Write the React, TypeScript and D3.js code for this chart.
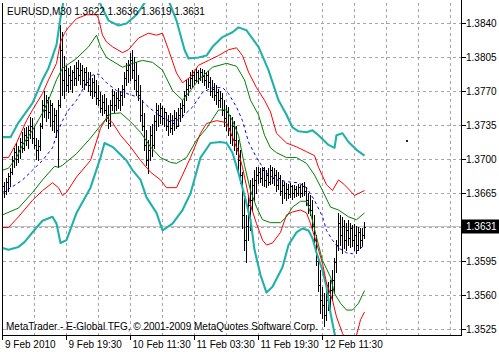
import React from "react";
import * as d3 from "d3";

const W = 499;
const H = 352;

// ---- price data (EURUSD M30), one entry per bar ----
const opens = [1.3666,1.3673,1.3668,1.3677,1.3683,1.3687,1.3699,1.3708,1.3701,1.3710,
1.3718,1.3712,1.3725,1.3720,1.3730,1.3735,1.3722,1.3715,1.3710,1.3714,
1.3735,1.3756,1.3751,1.3761,1.3749,1.3756,1.3740,1.3746,1.3730,1.3756,
1.3813,1.3782,1.3792,1.3777,1.3787,1.3782,1.3790,1.3784,1.3794,1.3787,
1.3792,1.3782,1.3790,1.3780,1.3777,1.3771,1.3780,1.3769,1.3763,1.3761,
1.3753,1.3759,1.3751,1.3746,1.3738,1.3756,1.3766,1.3756,1.3763,1.3761,
1.3766,1.3773,1.3784,1.3792,1.3797,1.3802,1.3792,1.3782,1.3771,1.3766,
1.3746,1.3735,1.3715,1.3699,1.3710,1.3725,1.3715,1.3740,1.3751,1.3746,
1.3753,1.3743,1.3749,1.3735,1.3740,1.3732,1.3738,1.3743,1.3735,1.3746,
1.3753,1.3756,1.3766,1.3773,1.3777,1.3784,1.3787,1.3782,1.3790,1.3784,
1.3790,1.3786,1.3782,1.3787,1.3780,1.3771,1.3773,1.3766,1.3769,1.3761,
1.3763,1.3751,1.3743,1.3749,1.3732,1.3725,1.3735,1.3720,1.3712,1.3699,
1.3684,1.3643,1.3617,1.3632,1.3653,1.3658,1.3674,1.3679,1.3684,1.3687,
1.3681,1.3689,1.3679,1.3684,1.3677,1.3689,1.3681,1.3684,1.3674,1.3681,
1.3668,1.3674,1.3666,1.3670,1.3664,1.3673,1.3666,1.3670,1.3665,1.3672,
1.3666,1.3673,1.3668,1.3658,1.3653,1.3648,1.3632,1.3617,1.3596,1.3571,
1.3555,1.3550,1.3540,1.3555,1.3560,1.3566,1.3576,1.3594,1.3612,1.3635,
1.3622,1.3632,1.3617,1.3627,1.3619,1.3629,1.3617,1.3622,1.3612,1.3625,
1.3617,1.3622];

const highs = [1.3679,1.3677,1.3681,1.3686,1.3691,1.3704,1.3712,1.3717,1.3714,1.3722,
1.3728,1.3732,1.3733,1.3735,1.3744,1.3743,1.3735,1.3722,1.3720,1.3738,
1.3761,1.3771,1.3766,1.3764,1.3761,1.3758,1.3753,1.3751,1.3761,1.3838,
1.3831,1.3807,1.3797,1.3794,1.3796,1.3792,1.3797,1.3800,1.3802,1.3799,
1.3797,1.3794,1.3795,1.3790,1.3790,1.3784,1.3787,1.3782,1.3777,1.3769,
1.3766,1.3767,1.3763,1.3756,1.3761,1.3773,1.3771,1.3769,1.3774,1.3771,
1.3777,1.3790,1.3799,1.3802,1.3810,1.3813,1.3805,1.3800,1.3787,1.3777,
1.3761,1.3748,1.3730,1.3720,1.3735,1.3737,1.3746,1.3758,1.3756,1.3758,
1.3755,1.3753,1.3749,1.3746,1.3748,1.3746,1.3751,1.3749,1.3753,1.3758,
1.3761,1.3771,1.3782,1.3784,1.3790,1.3792,1.3791,1.3794,1.3792,1.3794,
1.3793,1.3792,1.3790,1.3791,1.3785,1.3782,1.3779,1.3777,1.3773,1.3771,
1.3768,1.3761,1.3756,1.3754,1.3746,1.3744,1.3740,1.3735,1.3720,1.3710,
1.3687,1.3663,1.3643,1.3663,1.3679,1.3681,1.3689,1.3692,1.3692,1.3691,
1.3692,1.3692,1.3689,1.3691,1.3694,1.3692,1.3691,1.3689,1.3687,1.3684,
1.3679,1.3677,1.3676,1.3675,1.3676,1.3674,1.3674,1.3673,1.3675,1.3674,
1.3676,1.3677,1.3672,1.3666,1.3663,1.3658,1.3643,1.3622,1.3601,1.3586,
1.3569,1.3563,1.3566,1.3574,1.3576,1.3586,1.3599,1.3617,1.3645,1.3643,
1.3641,1.3638,1.3635,1.3638,1.3635,1.3633,1.3634,1.3632,1.3631,1.3630,
1.3629,1.3636];

const lows = [1.3662,1.3661,1.3664,1.3668,1.3673,1.3685,1.3692,1.3694,1.3697,1.3702,
1.3708,1.3710,1.3715,1.3712,1.3722,1.3717,1.3712,1.3701,1.3699,1.3710,
1.3732,1.3744,1.3740,1.3743,1.3735,1.3730,1.3728,1.3723,1.3692,1.3754,
1.3766,1.3763,1.3771,1.3769,1.3773,1.3769,1.3777,1.3777,1.3782,1.3778,
1.3775,1.3773,1.3777,1.3771,1.3766,1.3763,1.3765,1.3757,1.3756,1.3749,
1.3746,1.3748,1.3740,1.3732,1.3735,1.3751,1.3749,1.3751,1.3753,1.3751,
1.3756,1.3764,1.3777,1.3780,1.3782,1.3784,1.3773,1.3766,1.3761,1.3740,
1.3730,1.3710,1.3694,1.3686,1.3699,1.3704,1.3712,1.3730,1.3735,1.3738,
1.3737,1.3735,1.3730,1.3725,1.3728,1.3726,1.3730,1.3732,1.3734,1.3740,
1.3744,1.3749,1.3761,1.3766,1.3774,1.3775,1.3778,1.3780,1.3779,1.3782,
1.3780,1.3777,1.3774,1.3775,1.3766,1.3764,1.3761,1.3757,1.3754,1.3754,
1.3746,1.3735,1.3730,1.3725,1.3717,1.3715,1.3710,1.3706,1.3689,1.3676,
1.3630,1.3607,1.3594,1.3617,1.3627,1.3648,1.3658,1.3666,1.3676,1.3677,
1.3674,1.3673,1.3672,1.3674,1.3675,1.3676,1.3674,1.3668,1.3670,1.3663,
1.3655,1.3660,1.3658,1.3660,1.3661,1.3659,1.3661,1.3662,1.3663,1.3661,
1.3662,1.3663,1.3653,1.3645,1.3643,1.3627,1.3610,1.3591,1.3565,1.3542,
1.3537,1.3529,1.3535,1.3545,1.3547,1.3555,1.3563,1.3584,1.3607,1.3612,
1.3604,1.3609,1.3607,1.3612,1.3610,1.3611,1.3607,1.3604,1.3607,1.3609,
1.3612,1.3619];

const closes = [1.3673,1.3668,1.3677,1.3683,1.3687,1.3699,1.3708,1.3701,1.3710,1.3718,
1.3712,1.3725,1.3720,1.3730,1.3735,1.3722,1.3715,1.3710,1.3714,1.3735,
1.3756,1.3751,1.3761,1.3749,1.3756,1.3740,1.3746,1.3730,1.3756,1.3813,
1.3782,1.3792,1.3777,1.3787,1.3782,1.3790,1.3784,1.3794,1.3787,1.3792,
1.3782,1.3790,1.3780,1.3777,1.3771,1.3780,1.3769,1.3763,1.3761,1.3753,
1.3759,1.3751,1.3746,1.3738,1.3756,1.3766,1.3756,1.3763,1.3761,1.3766,
1.3773,1.3784,1.3792,1.3797,1.3802,1.3792,1.3782,1.3771,1.3766,1.3746,
1.3735,1.3715,1.3699,1.3710,1.3725,1.3715,1.3740,1.3751,1.3746,1.3753,
1.3743,1.3749,1.3735,1.3740,1.3732,1.3738,1.3743,1.3735,1.3746,1.3753,
1.3756,1.3766,1.3773,1.3777,1.3784,1.3787,1.3782,1.3790,1.3784,1.3790,
1.3786,1.3782,1.3787,1.3780,1.3771,1.3773,1.3766,1.3769,1.3761,1.3763,
1.3751,1.3743,1.3749,1.3732,1.3725,1.3735,1.3720,1.3712,1.3699,1.3684,
1.3643,1.3617,1.3632,1.3653,1.3658,1.3674,1.3679,1.3684,1.3687,1.3681,
1.3689,1.3679,1.3684,1.3677,1.3689,1.3681,1.3684,1.3674,1.3681,1.3668,
1.3674,1.3666,1.3670,1.3664,1.3673,1.3666,1.3670,1.3665,1.3672,1.3666,
1.3673,1.3668,1.3658,1.3653,1.3648,1.3632,1.3617,1.3596,1.3571,1.3555,
1.3550,1.3540,1.3555,1.3560,1.3566,1.3576,1.3594,1.3612,1.3635,1.3622,
1.3632,1.3617,1.3627,1.3619,1.3629,1.3617,1.3622,1.3612,1.3625,1.3617,
1.3622,1.3631];

// ---- band indicator lines: [bar index, price] ----
const tealUpper: [number, number][] = [[0,1.3723],[4,1.3723],[8,1.3738],[15,1.3758],[20,1.3782],[23,1.3794],[27,1.3818],[29,1.3846],[31,1.3869],[36,1.3890],[41,1.3895],[46,1.3879],[48,1.3864],[53,1.3843],[58,1.3838],[62,1.3840],[67,1.3849],[72,1.3864],[76,1.3876],[80,1.3874],[83,1.3864],[87,1.3843],[91,1.3813],[93,1.3804],[98,1.3805],[102,1.3807],[105,1.3816],[110,1.3826],[115,1.3831],[118,1.3836],[122,1.3833],[123,1.3830],[128,1.3816],[133,1.3792],[138,1.3761],[142,1.3746],[145,1.3733],[148,1.3729],[152,1.3728],[155,1.3730],[158,1.3725],[163,1.3715],[166,1.3712],[167,1.3725],[170,1.3727],[173,1.3718],[177,1.3710],[181,1.3704]];
const redUpper: [number, number][] = [[0,1.3702],[3,1.3702],[7,1.3717],[12,1.3740],[15,1.3751],[20,1.3768],[23,1.3782],[27,1.3799],[29,1.3821],[31,1.3830],[33,1.3836],[37,1.3845],[42,1.3849],[47,1.3849],[48,1.3845],[50,1.3828],[52,1.3821],[55,1.3816],[60,1.3810],[63,1.3813],[68,1.3825],[73,1.3830],[77,1.3828],[80,1.3830],[83,1.3813],[87,1.3789],[90,1.3779],[94,1.3785],[98,1.3797],[103,1.3802],[108,1.3807],[113,1.3813],[117,1.3815],[120,1.3807],[123,1.3790],[127,1.3774],[131,1.3761],[134,1.3749],[137,1.3727],[142,1.3717],[147,1.3713],[152,1.3708],[156,1.3704],[158,1.3692],[162,1.3674],[165,1.3668],[168,1.3679],[171,1.3674],[176,1.3663],[181,1.3668]];
const greenUpper: [number, number][] = [[0,1.3689],[3,1.3691],[7,1.3702],[10,1.3715],[15,1.3730],[20,1.3748],[23,1.3761],[27,1.3782],[30,1.3794],[37,1.3804],[43,1.3816],[47,1.3828],[49,1.3816],[52,1.3805],[60,1.3795],[65,1.3799],[70,1.3802],[75,1.3800],[80,1.3792],[85,1.3771],[90,1.3761],[94,1.3771],[98,1.3782],[105,1.3795],[112,1.3799],[117,1.3796],[121,1.3782],[124,1.3761],[128,1.3746],[131,1.3725],[134,1.3712],[137,1.3707],[142,1.3702],[147,1.3702],[152,1.3696],[156,1.3684],[160,1.3668],[164,1.3651],[168,1.3648],[173,1.3641],[177,1.3638],[181,1.3645]];
const center: [number, number][] = [[0,1.3666],[5,1.3672],[10,1.3679],[15,1.3689],[20,1.3699],[25,1.3712],[27,1.3725],[30,1.3740],[33,1.3751],[37,1.3761],[42,1.3779],[45,1.3787],[48,1.3788],[52,1.3779],[57,1.3771],[62,1.3768],[68,1.3764],[73,1.3754],[78,1.3746],[83,1.3740],[87,1.3740],[91,1.3746],[95,1.3754],[100,1.3769],[105,1.3774],[110,1.3774],[113,1.3768],[117,1.3754],[120,1.3740],[123,1.3718],[127,1.3702],[132,1.3686],[137,1.3679],[143,1.3677],[148,1.3676],[152,1.3671],[156,1.3658],[160,1.3641],[162,1.3627],[165,1.3617],[168,1.3609],[172,1.3604],[175,1.3603],[178,1.3607],[181,1.3612]];
const greenLower: [number, number][] = [[0,1.3643],[8,1.3650],[15,1.3666],[20,1.3679],[26,1.3693],[28,1.3692],[30,1.3694],[37,1.3706],[44,1.3722],[49,1.3735],[54,1.3747],[59,1.3748],[64,1.3739],[69,1.3728],[74,1.3713],[79,1.3702],[84,1.3697],[87,1.3696],[92,1.3702],[97,1.3720],[102,1.3732],[108,1.3751],[112,1.3751],[115,1.3740],[118,1.3725],[121,1.3694],[124,1.3668],[127,1.3651],[130,1.3638],[134,1.3635],[139,1.3635],[142,1.3641],[145,1.3651],[149,1.3657],[152,1.3657],[154,1.3645],[157,1.3620],[160,1.3596],[164,1.3579],[166,1.3562],[169,1.3552],[172,1.3545],[175,1.3545],[178,1.3552],[181,1.3565]];
const redLower: [number, number][] = [[0,1.3630],[3,1.3630],[8,1.3641],[15,1.3658],[20,1.3668],[25,1.3676],[28,1.3671],[30,1.3663],[32,1.3666],[37,1.3682],[44,1.3699],[49,1.3732],[52,1.3743],[55,1.3738],[59,1.3725],[64,1.3713],[69,1.3699],[74,1.3687],[79,1.3679],[82,1.3671],[87,1.3671],[90,1.3684],[94,1.3702],[99,1.3727],[102,1.3737],[107,1.3740],[112,1.3738],[115,1.3723],[118,1.3707],[120,1.3692],[124,1.3653],[127,1.3634],[130,1.3617],[132,1.3612],[135,1.3614],[139,1.3625],[142,1.3643],[145,1.3646],[149,1.3648],[152,1.3645],[154,1.3634],[157,1.3614],[160,1.3593],[162,1.3573],[165,1.3555],[167,1.3538],[170,1.3521],[173,1.3509],[175,1.3509],[177,1.3519],[179,1.3535],[181,1.3543]];
const tealLower: [number, number][] = [[0,1.3609],[3,1.3607],[8,1.3610],[11,1.3615],[17,1.3630],[20,1.3637],[25,1.3641],[27,1.3634],[29,1.3614],[32,1.3617],[37,1.3645],[44,1.3671],[49,1.3702],[51,1.3717],[55,1.3713],[62,1.3699],[65,1.3689],[69,1.3679],[72,1.3661],[77,1.3645],[80,1.3627],[85,1.3634],[90,1.3648],[94,1.3665],[99,1.3702],[104,1.3717],[109,1.3718],[112,1.3717],[115,1.3707],[118,1.3686],[121,1.3663],[124,1.3638],[126,1.3607],[129,1.3581],[132,1.3563],[135,1.3569],[140,1.3589],[143,1.3612],[147,1.3625],[150,1.3629],[153,1.3627],[155,1.3619],[157,1.3604],[160,1.3586],[162,1.3569],[164,1.3542],[166,1.3521],[169,1.3499],[174,1.3488],[178,1.3493],[181,1.3504]];
const strayDots: [number, number][] = [[202, 1.3720]];

// ---- axis labels ----
const yTicks = [1.3525, 1.3560, 1.3595, 1.3630, 1.3665, 1.3700, 1.3735, 1.3770, 1.3805, 1.3840];
const xTickIdx = [0, 32, 64, 96, 128, 160];
const xTickText = ["9 Feb 2010", "9 Feb 19:30", "10 Feb 11:30", "11 Feb 03:30", "11 Feb 19:30", "12 Feb 11:30"];
const symbolTitle = "EURUSD,M30";
const copyright = "MetaTrader - E-Global TFG, \u00A9 2001-2009 MetaQuotes Software Corp.";

const PL = 3, PR = 461, PT = 3, PB = 335;
const FONT = "'Liberation Sans', Arial, sans-serif";

export default function App() {
  const x = d3.scaleLinear().domain([0, 229]).range([2.5, 460.5]);
  const y = d3.scaleLinear().domain([1.3525, 1.384]).range([329.5, 23.5]);
  const fmt = d3.format(".4f");
  const line = d3.line<[number, number]>().x((d) => x(d[0])).y((d) => y(d[1]));
  const gridIdx = d3.range(16, 229, 16);
  const last = opens.length - 1;
  const bid = closes[last];
  const yBid = Math.round(y(bid) - 0.5) + 0.5;
  const header = `${symbolTitle}  ${fmt(opens[last])} ${fmt(highs[last])} ${fmt(lows[last])} ${fmt(bid)}`;

  return (
    <div style={{ position: "absolute", left: 0, top: 0 }}>
      <svg width={W} height={H} style={{ display: "block", background: "#fff" }}>
        <defs>
          <clipPath id="plot">
            <rect x={PL} y={PT} width={PR - PL} height={PB - PT} />
          </clipPath>
        </defs>
        <rect x={0} y={0} width={W} height={H} fill="#fff" />
        {/* grid */}
        <g stroke="#aaa3b4" strokeWidth={1} strokeDasharray="3,3" shapeRendering="crispEdges">
          {yTicks.map((t) => (
            <line key={"h" + t} x1={PL} x2={PR} y1={y(t)} y2={y(t)} />
          ))}
          {gridIdx.map((i) => (
            <line key={"v" + i} x1={x(i)} x2={x(i)} y1={PT} y2={PB} />
          ))}
        </g>
        {/* bid line */}
        <line x1={PL} x2={PR} y1={yBid} y2={yBid} stroke="#c4c4c4" strokeWidth={1} shapeRendering="crispEdges" />
        <g clipPath="url(#plot)">
          {/* bars */}
          <g fill="#000" shapeRendering="crispEdges">
            {highs.map((h, i) => {
              const xi = Math.round(x(i) - 0.5);
              const yh = Math.round(y(h));
              const yl = Math.round(y(lows[i]));
              return (
                <g key={i}>
                  <rect x={xi} y={yh} width={1} height={Math.max(1, yl - yh + 1)} />
                  <rect x={xi - 1} y={Math.round(y(opens[i]))} width={1} height={1} />
                  <rect x={xi + 1} y={Math.round(y(closes[i]))} width={1} height={1} />
                </g>
              );
            })}
          </g>
          {/* bands */}
          <g fill="none" strokeLinejoin="round">
            <path d={line(tealUpper) || ""} stroke="#20b2aa" strokeWidth={2.1} />
            <path d={line(tealLower) || ""} stroke="#20b2aa" strokeWidth={2.1} />
            <path d={line(redUpper) || ""} stroke="#ff0000" strokeWidth={1} />
            <path d={line(redLower) || ""} stroke="#ff0000" strokeWidth={1} />
            <path d={line(greenUpper) || ""} stroke="#008000" strokeWidth={1} />
            <path d={line(greenLower) || ""} stroke="#008000" strokeWidth={1} />
            <path d={line(center) || ""} stroke="#0000ff" strokeWidth={1} strokeDasharray="3,3" />
          </g>
          {strayDots.map((d, k) => (
            <rect key={"s" + k} x={Math.round(x(d[0]))} y={Math.round(y(d[1]))} width={2} height={2} fill="#222" />
          ))}
        </g>
        {/* frame */}
        <g stroke="#000" strokeWidth={1} shapeRendering="crispEdges">
          <line x1={PL - 0.5} x2={PL - 0.5} y1={PT} y2={PB + 0.5} />
          <line x1={PL - 0.5} x2={PR + 0.5} y1={PB + 0.5} y2={PB + 0.5} />
          <line x1={PR + 0.5} x2={PR + 0.5} y1={0} y2={PB + 0.5} />
          {yTicks.map((t) => (
            <line key={"yt" + t} x1={PR + 0.5} x2={PR + 5} y1={y(t)} y2={y(t)} />
          ))}
          {xTickIdx.map((i) => (
            <line key={"xt" + i} x1={Math.max(PL - 0.5, x(i))} x2={Math.max(PL - 0.5, x(i))} y1={PB} y2={PB + 5} />
          ))}
        </g>
        {/* labels */}
        <g fontFamily={FONT} fontSize={10} fill="#000">
          {yTicks
            .filter((t) => Math.abs(y(t) - y(bid)) > 9)
            .map((t) => (
              <text key={"yl" + t} x={466} y={y(t) + 3.5}>
                {fmt(t)}
              </text>
            ))}
          {xTickIdx.map((i, k) => (
            <text key={"xl" + i} x={Math.max(PL, x(i)) + 2} y={347.5}>
              {xTickText[k]}
            </text>
          ))}
          <text x={7} y={15}>{header}</text>
          <text x={6} y={330}>{copyright}</text>
        </g>
        {/* current price box */}
        <rect x={462} y={yBid - 7} width={37} height={14} fill="#000" />
        <text x={466} y={yBid + 3.5} fontFamily={FONT} fontSize={10} fill="#fff">
          {fmt(bid)}
        </text>
      </svg>
    </div>
  );
}
